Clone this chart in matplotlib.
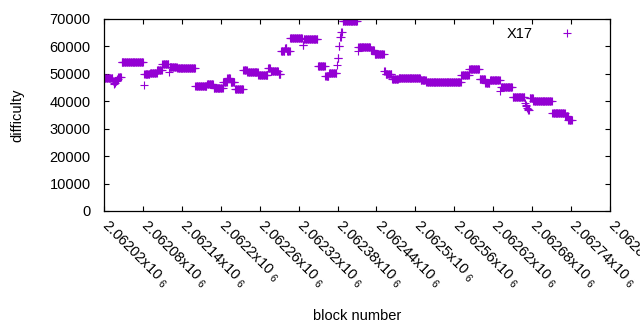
import numpy as np
import matplotlib
matplotlib.use("Agg")
import matplotlib.pyplot as plt
from matplotlib.ticker import MultipleLocator, FuncFormatter

plt.rcParams['font.family'] = ['Liberation Sans', 'DejaVu Sans']
plt.rcParams['mathtext.default'] = 'regular'

run_start = [2062021, 2062034, 2062035, 2062036, 2062038, 2062040, 2062042,
             2062047, 2062081, 2062082, 2062091, 2062102, 2062110, 2062120,
             2062121, 2062133, 2062161, 2062179, 2062189, 2062204, 2062210,
             2062215, 2062222, 2062235, 2062241, 2062258, 2062273, 2062277,
             2062289, 2062293, 2062299, 2062302, 2062307, 2062326, 2062328,
             2062350, 2062361, 2062367, 2062379, 2062380, 2062382, 2062384,
             2062386, 2062388, 2062411, 2062412, 2062431, 2062437, 2062452,
             2062454, 2062464, 2062474, 2062508, 2062517, 2062571, 2062583,
             2062599, 2062608, 2062615, 2062631, 2062632, 2062650, 2062669,
             2062670, 2062671, 2062672, 2062673, 2062674, 2062676, 2062682,
             2062711, 2062731, 2062736]
run_end = [2062033, 2062034, 2062035, 2062037, 2062039, 2062041, 2062046,
           2062080, 2062081, 2062090, 2062101, 2062109, 2062119, 2062120,
           2062132, 2062160, 2062178, 2062188, 2062203, 2062209, 2062214,
           2062221, 2062234, 2062240, 2062257, 2062272, 2062276, 2062288,
           2062292, 2062298, 2062301, 2062306, 2062325, 2062327, 2062349,
           2062360, 2062366, 2062378, 2062379, 2062381, 2062383, 2062385,
           2062387, 2062410, 2062411, 2062430, 2062436, 2062451, 2062453,
           2062463, 2062473, 2062507, 2062516, 2062570, 2062582, 2062598,
           2062607, 2062614, 2062630, 2062631, 2062649, 2062668, 2062669,
           2062670, 2062671, 2062672, 2062673, 2062675, 2062681, 2062710,
           2062730, 2062735, 2062741]
run_diff = [48500, 47500, 46300, 46800, 47300, 48000, 49000,
            54200, 45900, 50000, 50400, 51400, 53500, 50800,
            52600, 52000, 45500, 46400, 44700, 47200, 48400,
            47000, 44400, 51400, 50500, 49600, 52000, 51000,
            49800, 58300, 59400, 58300, 63000, 60400, 62600,
            52900, 49200, 50200, 53200, 55700, 60100, 63600,
            65200, 69300, 58200, 59900, 58600, 57100, 51000,
            49900, 48100, 48400, 47800, 46900, 49600, 51700,
            48100, 46800, 47700, 43900, 45200, 41600, 39400,
            38700, 38200, 37700, 37300, 36900, 41100, 40100,
            35700, 34600, 33200]

blocks = []
diffs = []
for s, e, d in zip(run_start, run_end, run_diff):
    for b in range(s, e + 1):
        blocks.append(b)
        diffs.append(d)

fig = plt.figure(figsize=(6.4, 3.3), dpi=100)
ax = fig.add_axes([104 / 640, 1 - 211 / 330, 506 / 640, 192 / 330])

ax.plot(blocks, diffs, linestyle='none', marker='+', markersize=5.2,
        markeredgewidth=0.8, color='#9400d3', label='X17')

ax.set_xlim(2062020, 2062800)
ax.set_ylim(0, 70000)
ax.xaxis.set_major_locator(MultipleLocator(60))
ax.yaxis.set_major_locator(MultipleLocator(10000))
ax.xaxis.set_major_formatter(FuncFormatter(lambda v, p: f"{v / 1e6:.6g}x10 $_6$"))
ax.tick_params(direction='in', top=True, right=True, length=3.5, width=0.8,
               labelsize=10.5, colors='black')
ax.tick_params(axis='x', pad=9)
ax.tick_params(axis='y', pad=9.5)
for lab in ax.get_xticklabels():
    lab.set_rotation(-45)
    lab.set_ha('left')
    lab.set_va('center')
    lab.set_rotation_mode('anchor')
for sp in ax.spines.values():
    sp.set_linewidth(0.9)

ax.set_xlabel('block number', fontsize=10.5)
ax.set_ylabel('difficulty', fontsize=10.5)
ax.xaxis.set_label_coords(0.5, -0.51)
ax.yaxis.set_label_coords(-0.158, 0.5)

ax.legend(loc='upper right', bbox_to_anchor=(1 - 6 / 506, 1 - 1 / 192),
          markerfirst=False, frameon=False, fontsize=10.5,
          handlelength=4.1, handletextpad=0.3, borderaxespad=0.1, borderpad=0.4)

fig.savefig('out.png', dpi=100)
